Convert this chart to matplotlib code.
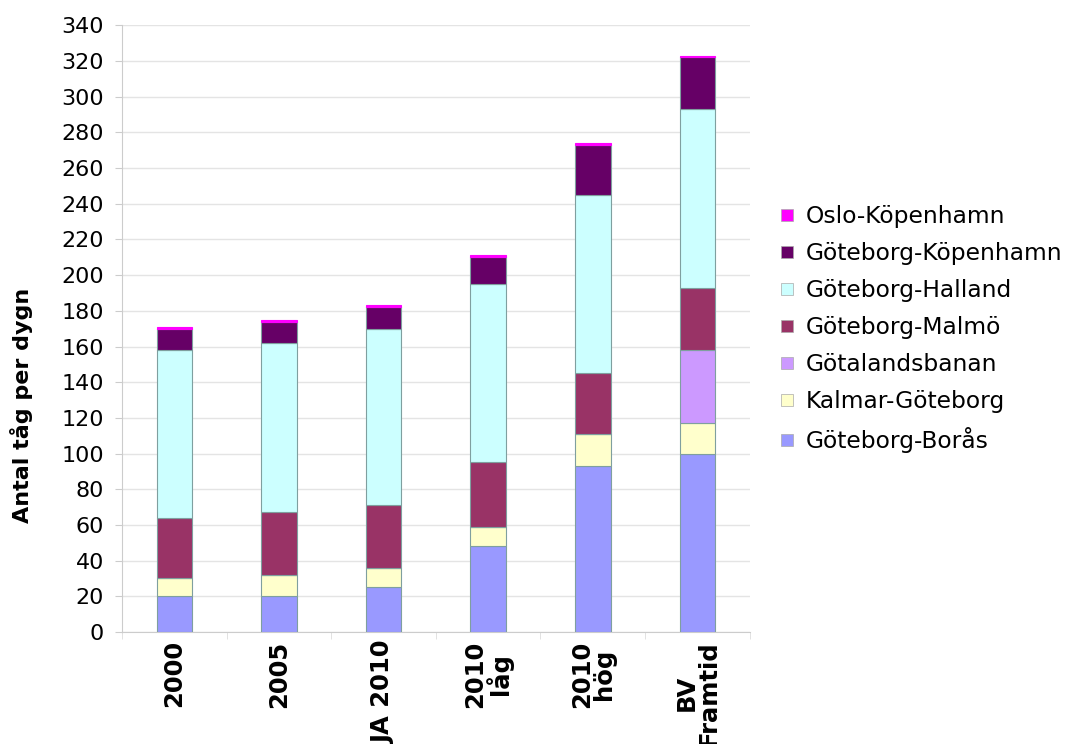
import numpy as np
import matplotlib
matplotlib.use("Agg")
import matplotlib.pyplot as plt
from matplotlib.lines import Line2D

# categories on the x axis
categories = ["2000", "2005", "JA 2010", "2010\nlåg", "2010\nhög", "BV\nFramtid"]

# trains per day, per line (stacked bottom to top)
boras = [20, 20, 25, 48, 93, 100]
kalmar = [10, 12, 11, 11, 18, 17]
gotalandsbanan = [0, 0, 0, 0, 0, 41]
malmo = [34, 35, 35, 36, 34, 35]
halland = [94, 95, 99, 100, 100, 100]
kopenhamn = [12, 12, 12, 15, 28, 29]
oslo = [1, 1, 1, 1, 1, 1]

series = [
    ("Göteborg-Borås", boras, "#9999ff"),
    ("Kalmar-Göteborg", kalmar, "#ffffcc"),
    ("Götalandsbanan", gotalandsbanan, "#cc99ff"),
    ("Göteborg-Malmö", malmo, "#993366"),
    ("Göteborg-Halland", halland, "#ccffff"),
    ("Göteborg-Köpenhamn", kopenhamn, "#660066"),
    ("Oslo-Köpenhamn", oslo, "#ff00ff"),
]

plt.rcParams['font.family'] = ['DejaVu Sans']

fig = plt.figure(figsize=(10.71, 7.44), dpi=100)
ax = fig.add_axes([0.114, 0.1505, 0.586, 0.8155])

x = np.arange(len(categories))
bottom = np.zeros(len(categories))
for name, vals, col in series:
    vals = np.array(vals, dtype=float)
    edge = col if name == "Oslo-Köpenhamn" else "#7f9f9f"
    ax.bar(x, vals, width=0.34, bottom=bottom, color=col,
           edgecolor=edge, linewidth=0.8, zorder=3)
    bottom += vals

ax.set_ylim(0, 340)
ax.set_xlim(-0.5, len(categories) - 0.5)
ax.set_yticks(np.arange(0, 341, 20))
ax.tick_params(axis="y", labelsize=16, length=5, color="#cccccc", pad=8)
ax.grid(axis="y", color="#e4e4e4", linewidth=1, zorder=0)

ax.set_xticks(x)
ax.set_xticklabels(categories, rotation=90, fontsize=17.5, fontweight="bold",
                   va="top", ha="center", multialignment="center",
                   linespacing=0.9)
ax.tick_params(axis="x", length=0, pad=6)
ax.set_xticks(np.arange(-0.5, len(categories), 1), minor=True)
ax.tick_params(axis="x", which="minor", length=5, color="#dddddd")

for s in ["top", "right"]:
    ax.spines[s].set_visible(False)
for s in ["left", "bottom"]:
    ax.spines[s].set_color("#cccccc")

fig.text(22 / 1071, 1 - 405 / 744, "Antal tåg per dygn", rotation=90,
         fontsize=16, fontweight="bold", ha="center", va="center")

handles = [Line2D([], [], linestyle="none", marker="s", markersize=9,
                  markerfacecolor=col, markeredgecolor="#aaaaaa",
                  markeredgewidth=0.5)
           for _, _, col in series]
labels = [name for name, _, _ in series]
fig.legend(handles[::-1], labels[::-1], loc="upper left",
           bbox_to_anchor=(757 / 1071, 1 - 184 / 744), frameon=False,
           fontsize=16.8, labelspacing=0.6, handlelength=0.8,
           handletextpad=0.4)

fig.savefig("out.png", dpi=100)
